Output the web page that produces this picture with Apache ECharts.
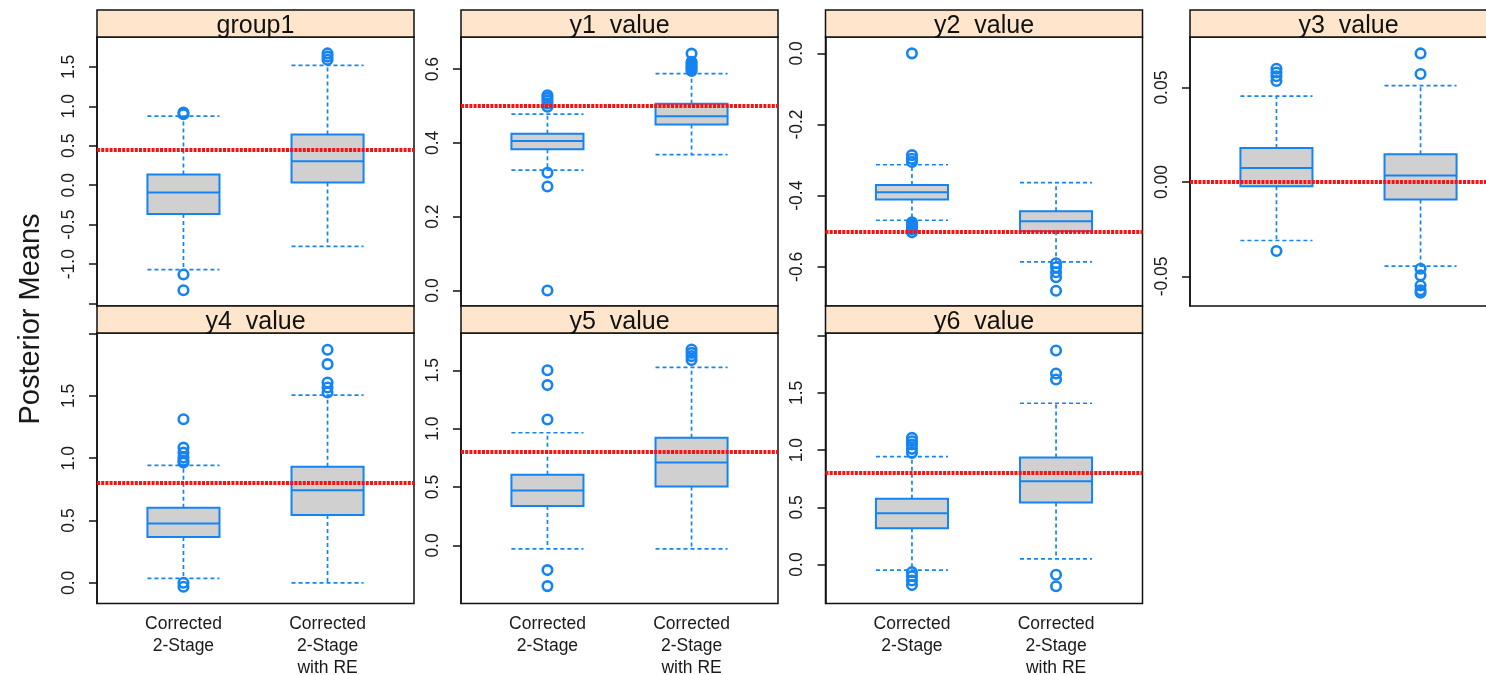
<!DOCTYPE html>
<html>
<head>
<meta charset="utf-8">
<script src="https://cdn.jsdelivr.net/npm/echarts@6/dist/echarts.min.js"></script>
<style>
html,body{margin:0;padding:0;background:#fff;}
#chart{width:1486px;height:675px;}
</style>
</head>
<body>
<div id="chart"></div>
<script>
// ---------------- DATA ----------------
const panelTitles = ['group1', 'y1  value', 'y2  value', 'y3  value', 'y4  value', 'y5  value', 'y6  value'];
const categories = ['Corrected\n2-Stage', 'Corrected\n2-Stage\nwith RE'];

// per panel: [Corrected 2-Stage, Corrected 2-Stage with RE]
const whiskerLow = [
  [-1.07, -0.774],
  [0.326, 0.368],
  [-0.469, -0.586],
  [-0.031, -0.0446],
  [0.035, 0.0],
  [-0.029, -0.029],
  [-0.05, 0.05]
];
const q1 = [
  [-0.364, 0.034],
  [0.383, 0.450],
  [-0.411, -0.500],
  [-0.0023, -0.0093],
  [0.367, 0.544],
  [0.337, 0.505],
  [0.317, 0.542]
];
const median = [
  [-0.093, 0.305],
  [0.405, 0.472],
  [-0.390, -0.472],
  [0.0074, 0.0034],
  [0.477, 0.742],
  [0.471, 0.711],
  [0.448, 0.728]
];
const q3 = [
  [0.136, 0.643],
  [0.425, 0.506],
  [-0.370, -0.444],
  [0.018, 0.0147],
  [0.603, 0.932],
  [0.605, 0.922],
  [0.574, 0.935]
];
const whiskerHigh = [
  [0.876, 1.519],
  [0.478, 0.588],
  [-0.313, -0.363],
  [0.0455, 0.051],
  [0.943, 1.506],
  [0.965, 1.524],
  [0.944, 1.41]
];
const outliers2Stage = [
  [0.90, 0.92, -1.13, -1.33],
  [0.529, 0.522, 0.515, 0.507, 0.498, 0.319, 0.282, 0.0],
  [0.0, -0.286, -0.296, -0.305, -0.475, -0.48, -0.485, -0.49, -0.495, -0.503],
  [0.060, 0.058, 0.056, 0.0535, -0.0366],
  [1.313, 1.085, 1.045, 1.005, 0.98, 0.965, 0.0, -0.032],
  [1.50, 1.373, 1.079, -0.211, -0.348],
  [1.107, 1.078, 1.049, 1.011, 0.976, -0.067, -0.102, -0.14, -0.18]
];
const outliersRE = [
  [1.67, 1.63, 1.59],
  [0.642, 0.62, 0.615, 0.61, 0.605, 0.60, 0.595],
  [-0.59, -0.601, -0.615, -0.629, -0.667],
  [0.0681, 0.0572, -0.046, -0.0495, -0.0548, -0.0574, -0.0587],
  [1.87, 1.755, 1.608, 1.568, 1.527],
  [1.678, 1.649, 1.621, 1.587],
  [1.871, 1.67, 1.617, -0.09, -0.19]
];
const refLine = [0.45, 0.5, -0.5, 0, 0.8, 0.8, 0.8];

// axis limits and ticks
const yMin = [-1.53, -0.042, -0.710, -0.0657, -0.166, -0.497, -0.341];
const yMax = [1.878, 0.687, 0.046, 0.0768, 2.005, 1.819, 2.024];
const yTicks = [
  [-1.5, -1, -0.5, 0, 0.5, 1, 1.5],
  [0, 0.2, 0.4, 0.6],
  [-0.6, -0.4, -0.2, 0],
  [-0.05, 0, 0.05],
  [0, 0.5, 1, 1.5, 2],
  [0, 0.5, 1, 1.5],
  [0, 0.5, 1, 1.5, 2]
];
const yLabels = [
  ['-1.0', '-0.5', '0.0', '0.5', '1.0', '1.5'],
  ['0.0', '0.2', '0.4', '0.6'],
  ['-0.6', '-0.4', '-0.2', '0.0'],
  ['-0.05', '0.00', '0.05'],
  ['0.0', '0.5', '1.0', '1.5'],
  ['0.0', '0.5', '1.0', '1.5'],
  ['0.0', '0.5', '1.0', '1.5']
];
const yTitle = 'Posterior Means';

// ---------------- LAYOUT / STYLE ----------------
const FONT = '"Liberation Sans", Arial, Helvetica, sans-serif';
const BLUE = '#1584f2';
const BOXFILL = '#d0d0d0';
const colLeft = [97, 461, 825.5, 1190];
const panelW = 317;
const stripTop = [10, 306];
const stripH = 27;
const gridH = [269, 270.5];
const panelPos = [[0,0],[0,1],[0,2],[0,3],[1,0],[1,1],[1,2]];

const grids = [], xAxes = [], yAxes = [], series = [], graphics = [];

panelTitles.forEach((title, p) => {
  const [r, c] = panelPos[p];
  const left = colLeft[c];
  const top = stripTop[r] + stripH;
  grids.push({
    left: left, top: top, width: panelW, height: gridH[r],
    containLabel: false, outerBoundsMode: 'none',
    show: true, borderColor: '#111', borderWidth: 1.5, backgroundColor: 'transparent'
  });
  const bottomRow = (r === 1);
  xAxes.push({
    gridIndex: p, type: 'value', min: 0.4, max: 2.6,
    show: bottomRow,
    axisLine: { show: false }, axisTick: { show: false }, splitLine: { show: false },
    axisLabel: {
      show: bottomRow,
      customValues: [1, 2],
      formatter: v => categories[Math.round(v) - 1] || '',
      fontFamily: FONT, fontSize: 17.5, lineHeight: 22, color: '#1a1a1a', margin: 10
    }
  });
  const labs = yLabels[p];
  yAxes.push({
    gridIndex: p, type: 'value', min: yMin[p], max: yMax[p],
    axisLine: { show: true, lineStyle: { color: '#111', width: 1.5 } },
    axisTick: { show: true, customValues: yTicks[p], length: 8, lineStyle: { color: '#111', width: 1.5 } },
    splitLine: { show: false },
    axisLabel: {
      customValues: labs.map(s => parseFloat(s)),
      formatter: v => { const m = labs.find(s => Math.abs(parseFloat(s) - v) < 1e-9); return m || ''; },
      rotate: 90, margin: 19, fontFamily: FONT, fontSize: 17.5, color: '#1a1a1a'
    }
  });

  // boxes and whiskers
  const boxData = [0, 1].map(k => [k + 1, whiskerLow[p][k], q1[p][k], median[p][k], q3[p][k], whiskerHigh[p][k]]);
  series.push({
    type: 'custom', xAxisIndex: p, yAxisIndex: p, z: 2,
    data: boxData,
    encode: { x: 0, y: [1, 2, 3, 4, 5] },
    renderItem: (params, api) => {
      const x = api.value(0);
      const cx = api.coord([x, 0])[0];
      const xl = api.coord([x - 0.25, 0])[0];
      const xr = api.coord([x + 0.25, 0])[0];
      const yLo = api.coord([x, api.value(1)])[1];
      const yQ1 = api.coord([x, api.value(2)])[1];
      const yMed = api.coord([x, api.value(3)])[1];
      const yQ3 = api.coord([x, api.value(4)])[1];
      const yHi = api.coord([x, api.value(5)])[1];
      const dashStyle = { stroke: BLUE, lineWidth: 1.7, lineDash: [4, 3] };
      return {
        type: 'group',
        children: [
          { type: 'line', shape: { x1: cx, y1: yQ3, x2: cx, y2: yHi }, style: dashStyle },
          { type: 'line', shape: { x1: cx, y1: yQ1, x2: cx, y2: yLo }, style: dashStyle },
          { type: 'line', shape: { x1: xl, y1: yHi, x2: xr, y2: yHi }, style: dashStyle },
          { type: 'line', shape: { x1: xl, y1: yLo, x2: xr, y2: yLo }, style: dashStyle },
          { type: 'rect', shape: { x: xl, y: yQ3, width: xr - xl, height: yQ1 - yQ3 },
            style: { fill: BOXFILL, stroke: BLUE, lineWidth: 2 } },
          { type: 'line', shape: { x1: xl, y1: yMed, x2: xr, y2: yMed }, style: { stroke: BLUE, lineWidth: 2 } }
        ]
      };
    }
  });

  // outliers + reference line
  const outData = outliers2Stage[p].map(v => [1, v]).concat(outliersRE[p].map(v => [2, v]));
  series.push({
    type: 'scatter', xAxisIndex: p, yAxisIndex: p, z: 3,
    data: outData,
    symbol: 'circle', symbolSize: 9.5,
    itemStyle: { color: 'rgba(0,0,0,0)', borderColor: BLUE, borderWidth: 2.6, opacity: 1 },
    emphasis: { disabled: true },
    markLine: {
      silent: true, symbol: ['none', 'none'],
      label: { show: false },
      lineStyle: { color: '#ff1010', width: 4, type: [3, 1.2], opacity: 1 },
      data: [{ yAxis: refLine[p] }]
    }
  });

  // strip
  graphics.push({
    type: 'rect', z: 10,
    shape: { x: left, y: stripTop[r], width: panelW, height: stripH },
    style: { fill: '#ffe5cc', stroke: '#111', lineWidth: 1.5 }
  });
  graphics.push({
    type: 'text', z: 11,
    x: left + panelW / 2, y: stripTop[r] + 16,
    style: { text: title, font: '25px ' + FONT, fill: '#111', align: 'center', verticalAlign: 'middle' }
  });
});

graphics.push({
  type: 'text', z: 11, x: 31, y: 319, rotation: Math.PI / 2,
  style: { text: yTitle, font: '29px ' + FONT, fill: '#1a1a1a', align: 'center', verticalAlign: 'middle' }
});

const chart = echarts.init(document.getElementById('chart'), null, { renderer: 'canvas' });
chart.setOption({
  animation: false,
  backgroundColor: '#fff',
  grid: grids,
  xAxis: xAxes,
  yAxis: yAxes,
  series: series,
  graphic: graphics
});
</script>
</body>
</html>
